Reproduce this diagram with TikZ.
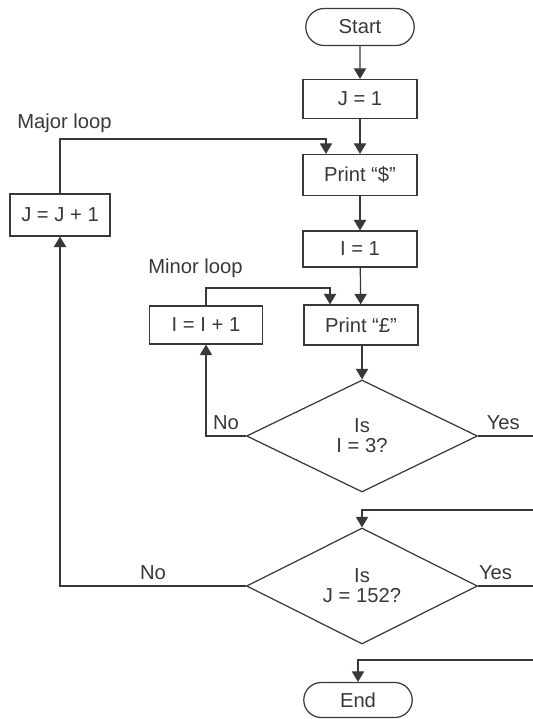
\documentclass[tikz,border=0pt]{standalone}
\usepackage{fontspec}
\setmainfont{Liberation Sans}
\usetikzlibrary{positioning,shapes.geometric,shapes.misc,arrows.meta,calc}

\colorlet{inkcol}{black!78}
\tikzset{
  box/.style={draw=inkcol, line width=0.7pt, minimum width=2.28cm, minimum height=0.78cm, inner sep=1pt},
  term/.style={rounded rectangle, draw=inkcol, line width=0.7pt, minimum width=2.24cm, minimum height=0.74cm, inner sep=1pt},
  test/.style={diamond, draw=inkcol, line width=0.7pt, minimum width=4.62cm, minimum height=2.24cm, align=center, inner sep=0pt},
  flow/.style={draw=inkcol, line width=0.7pt, -{Triangle[width=7pt,length=6pt]}},
}

\begin{document}
\begin{tikzpicture}[x=0.02cm, y=-0.02cm, every node/.style={font=\fontsize{11.5}{11.5}\selectfont, text=inkcol}]
    \useasboundingbox (0,0) rectangle (533,719);

    % Main column
    \node[term] (start) at (360,27) {Start};
    \node[box] (j1) at (360,99) {J = 1};
    \node[box, minimum height=0.82cm] (printd) at (360,175) {Print “\$”};
    \node[box, minimum height=0.72cm] (i1) at (360,249) {I = 1};
    \node[box, minimum height=0.8cm] (printp) at (361,325) {Print “£”};
    \node[test] (isi) at (362,436) {Is\\I = 3?};
    \node[test, minimum height=2.32cm] (isj) at (362,586) {Is\\J = 152?};
    \node[term, minimum height=0.7cm] (end) at (358,700) {End};

    % Loop boxes
    \node[box, minimum width=2cm, minimum height=0.84cm] (jinc) at (60,215) {J = J + 1};
    \node[box, minimum width=2.26cm, minimum height=0.76cm] (iinc) at (206,325) {I = I + 1};

    % Loop labels
    \node[anchor=west, inner sep=0pt] (majlabel) at (17,123) {Major loop};
    \node[anchor=west, inner sep=0pt] (minlabel) at (148,268) {Minor loop};

    % Turning points
    \coordinate (majtop) at (326,139);
    \coordinate (mintop) at (330,288);
    \coordinate (rgt) at (548,0);
    \coordinate (back1) at (362,510);
    \coordinate (back2) at (358,660);

    % Connectors
    \draw[flow] (start) -- (j1);
    \draw[flow] (j1) -- (printd);
    \draw[flow] (printd) -- (i1);
    \draw[flow] (i1) -- (printp);
    \draw[flow] (printp.south -| isi.north) -- (isi);
    \draw[flow] (jinc.north) |- (majtop) -- (majtop |- printd.north);
    \draw[flow] (iinc.north) |- (mintop) -- (mintop |- printp.north);
    \draw[flow] (isi.west) -| node[pos=0.25, above] {No} (iinc.south);
    \draw[flow] (isi.east) -- node[pos=0.36, above] {Yes} (isi.east -| rgt) |- (back1) -- (isj.north);
    \draw[flow] (isj.west) -| node[pos=0.25, above] {No} (jinc.south);
    \draw[flow] (isj.east) -- node[pos=0.25, above] {Yes} (isj.east -| rgt) |- (back2) -- (end.north);
\end{tikzpicture}
\end{document}
